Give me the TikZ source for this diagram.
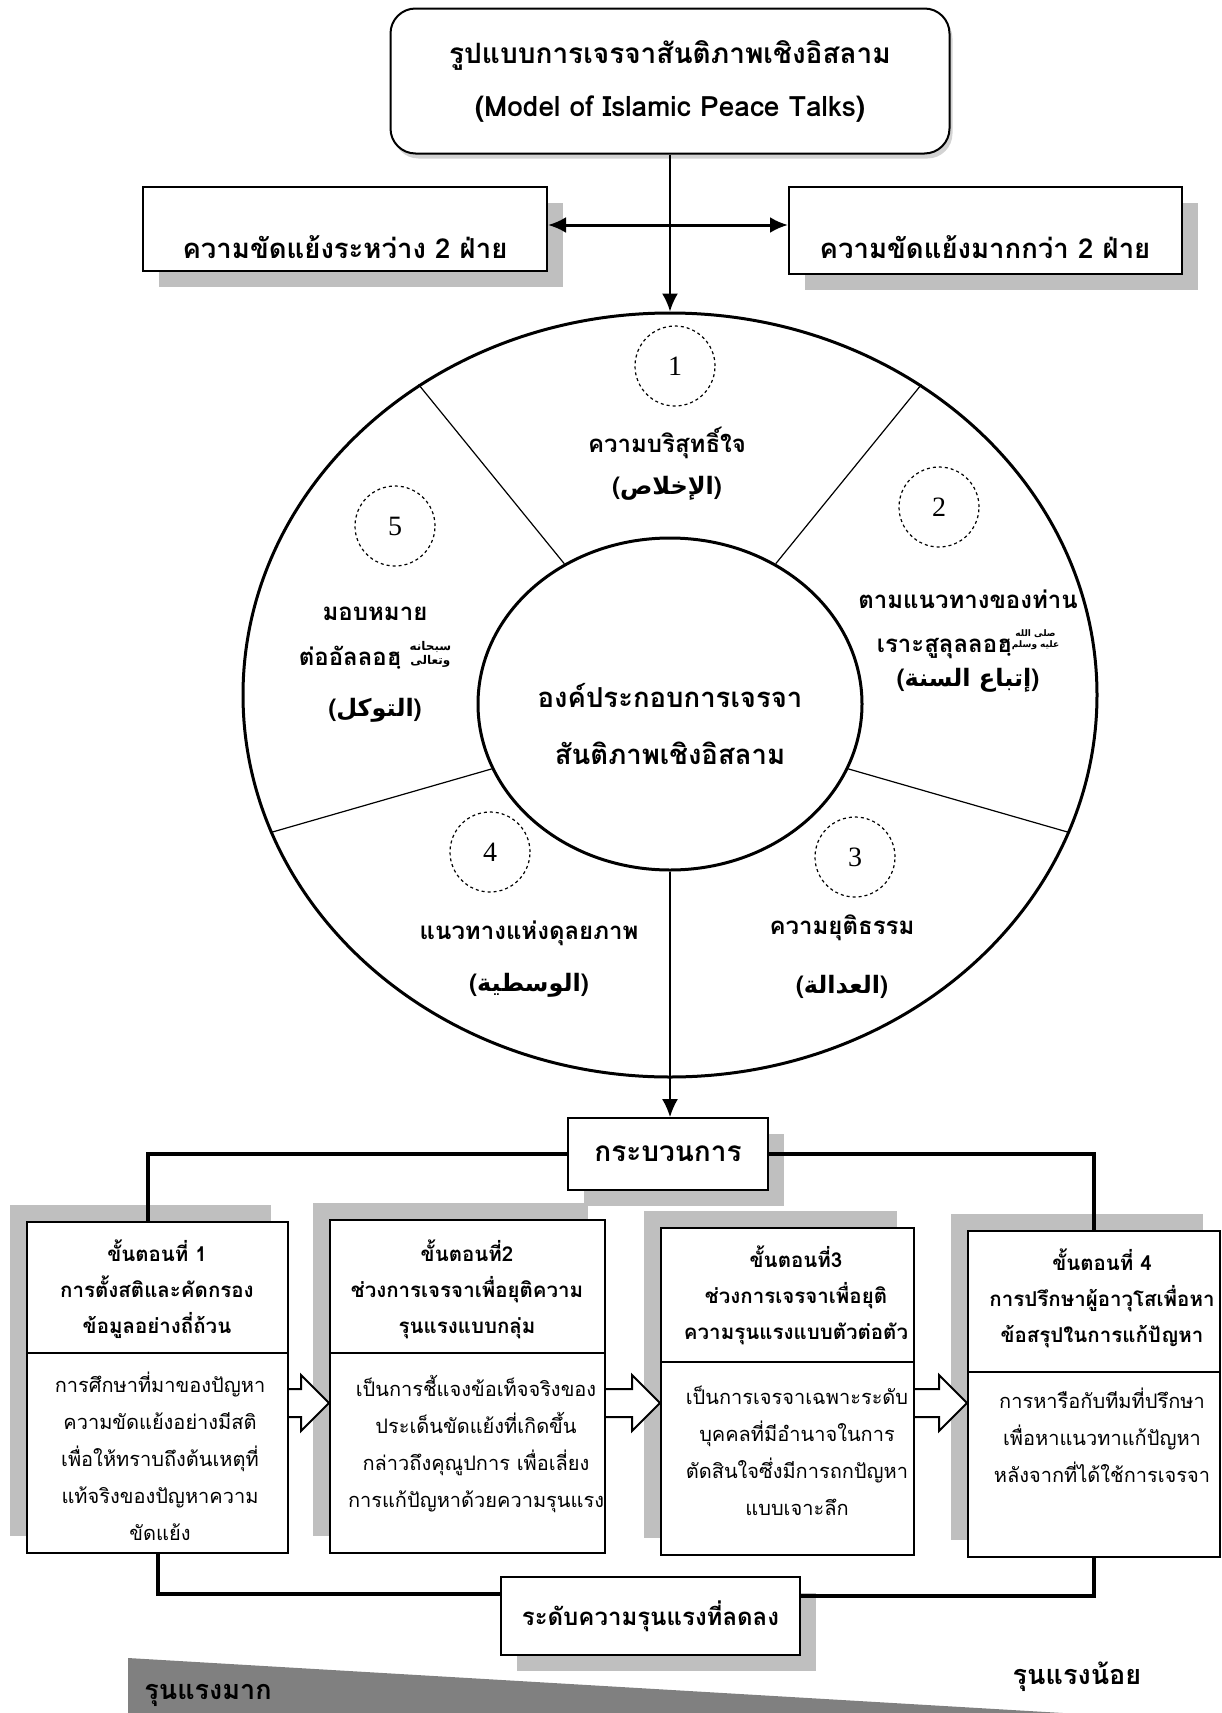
\documentclass[tikz,border=0pt]{standalone}
\usepackage{fontspec}
\setmainfont[Script=Thai]{Loma}
\newfontfamily\arabicfont[Script=Arabic]{DejaVu Sans}
\newfontfamily\zahlfont{Liberation Serif}
\TeXXeTstate=1
\usepackage{tikz}
\usepackage{xcolor}
\usetikzlibrary{arrows.meta}
\usetikzlibrary{shapes}
\usetikzlibrary{shadows}
\usetikzlibrary{calc}

\newcommand{\arab}[1]{{\arabicfont\bfseries\beginR #1\endR}}
% Ehrenformeln, klein gestapelt
\newcommand{\salla}{\raisebox{5pt}{\arabicfont\fontsize{9}{9}\selectfont\shortstack{\beginR صلى الله\endR\\\beginR عليه وسلم\endR}}}
\newcommand{\subhana}{\raisebox{1pt}{\arabicfont\fontsize{12}{12}\selectfont\shortstack{\beginR سبحانه\endR\\\beginR وتعالى\endR}}}
% Blockpfeil zwischen zwei Stufen
\newcommand{\blockpfeil}[2]{%
\draw[line width=2pt, fill=white] (#1.east |- 0,1389) -| ($(#2.west |- 0,1375)+(-28,0)$) -- (#2.west |- 0,1403) -- ($(#2.west |- 0,1431)+(-28,0)$) |- (#1.east |- 0,1417);}

\begin{document}
\begin{tikzpicture}[x=1pt, y=-1pt,
  kasten/.style={draw, line width=2pt, fill=white, inner sep=0pt},
  schatten/.style={drop shadow={shadow xshift=16pt, shadow yshift=-16pt, fill=black!25, opacity=1}},
  stufe/.style={kasten, drop shadow={shadow xshift=-17pt, shadow yshift=17pt, fill=black!25, opacity=1}},
  kreis/.style={circle, draw, dashed, line width=1.2pt, minimum size=80pt, inner sep=0pt, font=\zahlfont\fontsize{28}{28}\selectfont},
  fett/.style={align=center, font=\fontsize{24}{38}\selectfont\bfseries},
  kopf/.style={align=center, font=\fontsize{20.5}{36}\selectfont\bfseries},
  rumpf/.style={align=center, font=\fontsize{20}{37}\selectfont},
  pfeil/.style={-{Latex[length=18pt,width=16pt]}},
  teiler/.style={line width=1.2pt},
  balken/.style={line width=4pt}]
\useasboundingbox (0,0) rectangle (1221,1713);

% oben
\node[kasten, rounded corners=25pt, drop shadow={shadow xshift=3pt, shadow yshift=-5pt, opacity=.35},
  minimum width=559pt, minimum height=145pt, align=center, font=\fontsize{28}{53}\selectfont\bfseries]
  (titel) at (670,81) {รูปแบบการเจรจาสันติภาพเชิงอิสลาม\\(Model of Islamic Peace Talks)};

\node[kasten, schatten, minimum width=404pt, minimum height=84pt] (links) at (345,229) {};
\node[fett, font=\fontsize{27.5}{30}\selectfont\bfseries] (linkstext) at (345,247) {ความขัดแย้งระหว่าง 2 ฝ่าย};
\node[kasten, schatten, minimum width=393pt, minimum height=87pt] (rechts) at (985.5,230.5) {};
\node[fett, font=\fontsize{27.5}{30}\selectfont\bfseries] (rechtstext) at (985,247) {ความขัดแย้งมากกว่า 2 ฝ่าย};

% Rad mit fuenf Teilen
\node[ellipse, draw, line width=3pt, minimum width=854pt, minimum height=764pt, inner sep=0pt] (rad) at (670,695) {};
\node[ellipse, draw, line width=3pt, fill=white, minimum width=384pt, minimum height=332pt, inner sep=0pt] (kern) at (670,704) {};
\node[fett, font=\fontsize{27.5}{57}\selectfont\bfseries] (kerntext) at (670,724) {องค์ประกอบการเจรจา\\สันติภาพเชิงอิสลาม};

\draw[teiler] (kern.127) -- (rad.129);
\draw[teiler] (kern.53) -- (rad.51);
\draw[teiler] (kern.200) -- (rad.199);
\draw[teiler] (kern.340) -- (rad.341);

\draw[pfeil, line width=2pt] (titel.south) -- (rad.north);
\draw[{Latex[length=18pt,width=16pt]}-{Latex[length=18pt,width=16pt]}, line width=3pt] (links.east |- 0,225) -- (rechts.west |- 0,225);

\node[kreis] (k1) at (675,366) {1};
\node[kreis] (k2) at (939,507) {2};
\node[kreis] (k3) at (855,857) {3};
\node[kreis] (k4) at (490,852) {4};
\node[kreis] (k5) at (395,526) {5};

\node[fett] (t1) at (667,464) {ความบริสุทธิ์ใจ\\[4pt](\arab{الإخلاص})};
\node[fett] (t2) at (968,641) {ตามแนวทางของท่าน\\[6pt]เราะสูลุลลอฮฺ\salla\\[-4pt](\arab{إتباع السنة})};
\node[fett] (t3) at (842,957) {ความยุติธรรม\\[21pt](\arab{العدالة})};
\node[fett] (t4) at (529,959) {แนวทางแห่งดุลยภาพ\\[14pt](\arab{الوسطية})};
\node[fett] (t5) at (375,665) {มอบหมาย\\[7pt]ต่ออัลลอฮฺ \subhana\\[13pt](\arab{التوكل})};

% Prozess
\node[kasten, schatten, minimum width=200pt, minimum height=72pt, font=\fontsize{28}{30}\selectfont\bfseries] (prozess) at (668,1154) {กระบวนการ};
\draw[pfeil, line width=1.5pt] (kern.south) -- (kern.south |- prozess.north);

\node[stufe, minimum width=261pt, minimum height=331pt] (s1) at (157.5,1387.5) {};
\node[stufe, minimum width=275pt, minimum height=333pt] (s2) at (467.5,1386.5) {};
\node[stufe, minimum width=253pt, minimum height=327pt] (s3) at (787.5,1391.5) {};
\node[stufe, minimum width=252pt, minimum height=326pt] (s4) at (1094,1394) {};

\draw[line width=1.5pt] (s1.west |- 0,1353) -- (s1.east |- 0,1353);
\draw[line width=1.5pt] (s2.west |- 0,1353) -- (s2.east |- 0,1353);
\draw[line width=1.5pt] (s3.west |- 0,1362) -- (s3.east |- 0,1362);
\draw[line width=1.5pt] (s4.west |- 0,1372) -- (s4.east |- 0,1372);

\node[kopf] (kopf1) at (157,1289) {ขั้นตอนที่ 1\\การตั้งสติและคัดกรอง\\ข้อมูลอย่างถี่ถ้วน};
\node[rumpf] (rumpf1) at (160,1456) {การศึกษาที่มาของปัญหา\\ความขัดแย้งอย่างมีสติ\\เพื่อให้ทราบถึงต้นเหตุที่\\แท้จริงของปัญหาความ\\ขัดแย้ง};
\node[kopf] (kopf2) at (467,1289) {ขั้นตอนที่2\\ช่วงการเจรจาเพื่อยุติความ\\รุนแรงแบบกลุ่ม};
\node[rumpf] (rumpf2) at (476,1444) {เป็นการชี้แจงข้อเท็จจริงของ\\ประเด็นขัดแย้งที่เกิดขึ้น\\กล่าวถึงคุณูปการ เพื่อเลี่ยง\\การแก้ปัญหาด้วยความรุนแรง};
\node[kopf] (kopf3) at (796,1295) {ขั้นตอนที่3\\ช่วงการเจรจาเพื่อยุติ\\ความรุนแรงแบบตัวต่อตัว};
\node[rumpf] (rumpf3) at (797,1451) {เป็นการเจรจาเฉพาะระดับ\\บุคคลที่มีอำนาจในการ\\ตัดสินใจซึ่งมีการถกปัญหา\\แบบเจาะลึก};
\node[kopf] (kopf4) at (1102,1298) {ขั้นตอนที่ 4\\การปรึกษาผู้อาวุโสเพื่อหา\\ข้อสรุปในการแก้ปัญหา};
\node[rumpf] (rumpf4) at (1102,1435) {การหารือกับทีมที่ปรึกษา\\เพื่อหาแนวทาแก้ปัญหา\\หลังจากที่ได้ใช้การเจรจา};

\blockpfeil{s1}{s2}
\blockpfeil{s2}{s3}
\blockpfeil{s3}{s4}

\node[kasten, schatten, minimum width=299pt, minimum height=78pt, font=\fontsize{24}{30}\selectfont\bfseries] (senk) at (650.5,1616) {ระดับความรุนแรงที่ลดลง};

\draw[balken] (prozess.west) -| ([xshift=-10pt]s1.north);
\draw[balken] (prozess.east) -| (s4.north);
\draw[balken] (s1.south) |- ([yshift=22pt]senk.west);
\draw[balken] (s4.south) |- ([yshift=20pt]senk.east);

% Keil unten
\fill[black!50] (128,1658) -- (1063,1713) -- (128,1713) -- cycle;
\node[fett, font=\fontsize{27}{30}\selectfont\bfseries] (viel) at (208,1695) {รุนแรงมาก};
\node[fett, font=\fontsize{27}{30}\selectfont\bfseries] (wenig) at (1077,1677) {รุนแรงน้อย};
\end{tikzpicture}
\end{document}
